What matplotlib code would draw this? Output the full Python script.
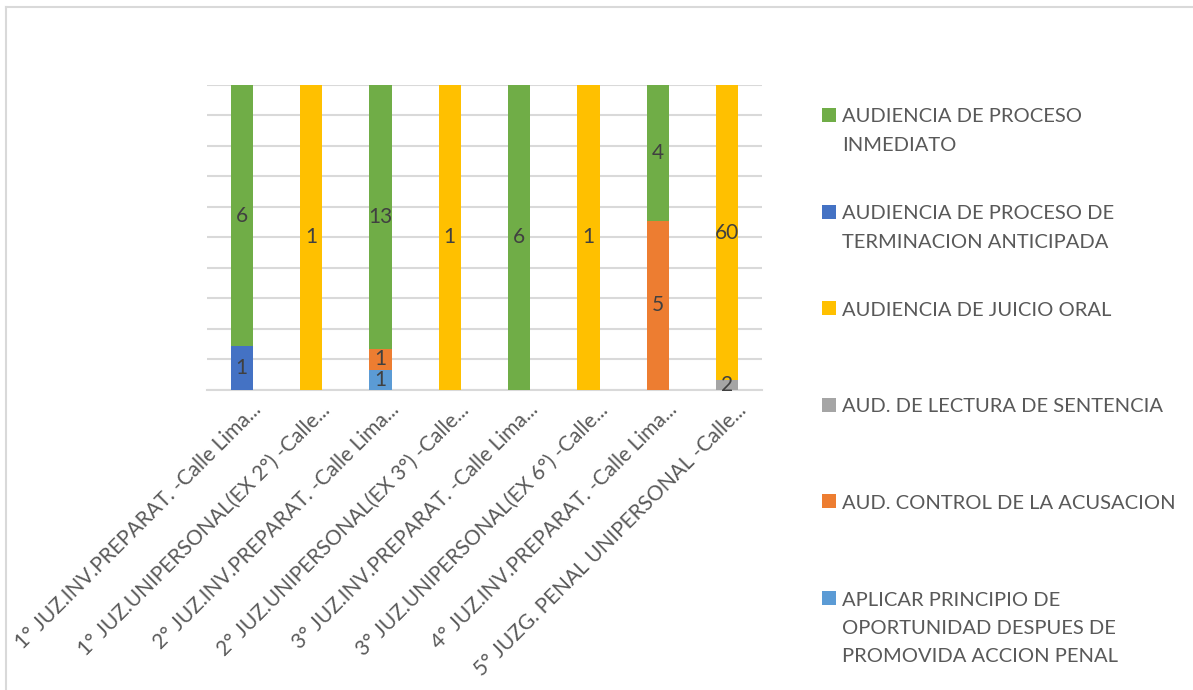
import matplotlib
matplotlib.use("AGG")
import matplotlib.pyplot as plt
import matplotlib.transforms as mtransforms
from matplotlib.patches import Rectangle
from matplotlib.lines import Line2D
import numpy as np

#categories on the x axis
categories = [
    "1° JUZ.INV.PREPARAT. -Calle Lima...",
    "1° JUZ.UNIPERSONAL(EX 2°) -Calle...",
    "2° JUZ.INV.PREPARAT. -Calle Lima...",
    "2° JUZ.UNIPERSONAL(EX 3°) -Calle...",
    "3° JUZ.INV.PREPARAT. -Calle Lima...",
    "3° JUZ.UNIPERSONAL(EX 6°) -Calle...",
    "4° JUZ.INV.PREPARAT. -Calle Lima...",
    "5° JUZG. PENAL UNIPERSONAL -Calle...",
]

#series values, in stacking order (bottom to top)
aplicar_principio = [0, 0, 1, 0, 0, 0, 0, 0]
control_acusacion = [0, 0, 1, 0, 0, 0, 5, 0]
lectura_sentencia = [0, 0, 0, 0, 0, 0, 0, 2]
juicio_oral = [0, 1, 0, 1, 0, 1, 0, 60]
terminacion_anticipada = [1, 0, 0, 0, 0, 0, 0, 0]
proceso_inmediato = [6, 0, 13, 0, 6, 0, 4, 0]

series_names = [
    "APLICAR PRINCIPIO DE\nOPORTUNIDAD DESPUES DE\nPROMOVIDA ACCION PENAL",
    "AUD. CONTROL DE LA ACUSACION",
    "AUD. DE LECTURA DE SENTENCIA",
    "AUDIENCIA DE JUICIO ORAL",
    "AUDIENCIA DE PROCESO DE\nTERMINACION ANTICIPADA",
    "AUDIENCIA DE PROCESO\nINMEDIATO",
]
series_colors = ["#5B9BD5", "#ED7D31", "#A5A5A5", "#FFC000", "#4472C4", "#70AD47"]

series_values = [aplicar_principio, control_acusacion, lectura_sentencia,
                 juicio_oral, terminacion_anticipada, proceso_inmediato]

plt.rcParams["font.family"] = ["Lato", "DejaVu Sans"]
text_color = "#595959"
W, H = 1193, 690

fig = plt.figure(figsize=(W / 100, H / 100), dpi=100)
ax = fig.add_axes([207 / W, 1 - 390 / H, 555 / W, 305 / H])

values = np.array(series_values, dtype=float)
totals = values.sum(axis=0)
shares = values / totals * 100

x = np.arange(len(categories))
bottom = np.zeros(len(categories))
for name, color, vals, pct in zip(series_names, series_colors, values, shares):
    ax.bar(x, pct, 0.32, bottom=bottom, color=color, zorder=3)
    #data labels in the middle of each segment
    for xi, v, p, bt in zip(x, vals, pct, bottom):
        if v > 0:
            ax.text(xi, bt + p / 2, "%d" % v, ha="center", va="center",
                    fontsize=15, color="#404040", zorder=4)
    bottom = bottom + pct

ax.set_xlim(-0.5, len(categories) - 0.5)
ax.set_ylim(0, 100)
ax.set_yticks(np.arange(0, 101, 10))
ax.yaxis.grid(True, color="#D9D9D9", linewidth=1.5, zorder=0)
ax.tick_params(axis="y", length=0, labelleft=False)
ax.tick_params(axis="x", length=0, pad=2)
for side in ["top", "right", "left"]:
    ax.spines[side].set_visible(False)
ax.spines["bottom"].set_color("#D9D9D9")
ax.spines["bottom"].set_linewidth(1.5)

ax.set_xticks(x)
ax.set_xticklabels(categories, rotation=45, ha="right", rotation_mode="anchor",
                   fontsize=15, color=text_color)
offset = mtransforms.ScaledTranslation(0.09, -0.07, fig.dpi_scale_trans)
for lbl in ax.get_xticklabels():
    lbl.set_transform(lbl.get_transform() + offset)

#legend drawn by hand: top entry is the last series, first line of each
#entry sits on a fixed pitch and the colour box is level with it
leg_top = 115
leg_pitch = 96.6
line_pitch = 28.5
leg_size = 14.5
for i, (name, color) in enumerate(zip(series_names[::-1], series_colors[::-1])):
    y0 = leg_top + i * leg_pitch
    fig.patches.append(Rectangle((822 / W, 1 - (y0 + 7) / H), 14 / W, 14 / H,
                                 transform=fig.transFigure, facecolor=color,
                                 edgecolor="none"))
    for j, line in enumerate(name.split("\n")):
        yc = y0 + j * line_pitch
        fig.text(842 / W, 1 - (yc + 7.5) / H, line, ha="left", va="baseline",
                 fontsize=leg_size, color=text_color)

#light border on the left and top of the chart
fig.add_artist(Line2D([6.5 / W, 6.5 / W], [0, 1 - 7 / H], transform=fig.transFigure,
                      color="#D9D9D9", linewidth=1.5))
fig.add_artist(Line2D([6.5 / W, 1], [1 - 7 / H, 1 - 7 / H], transform=fig.transFigure,
                      color="#D9D9D9", linewidth=1.5))

fig.savefig("out.png", dpi=100)
